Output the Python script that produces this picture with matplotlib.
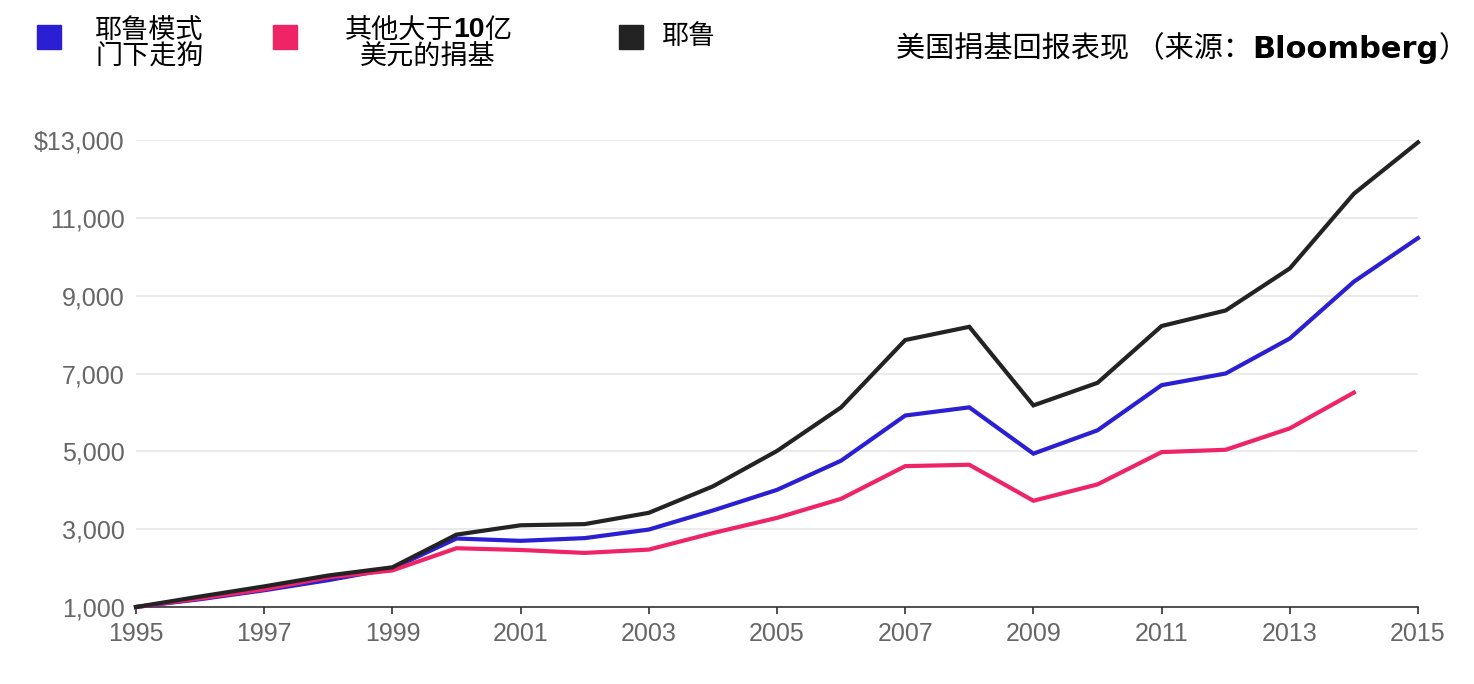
import matplotlib
matplotlib.use("Agg")
import matplotlib.pyplot as plt
import numpy as np

# ---------------- data ----------------
years = list(range(1995, 2016))
yale = [1000, 1270, 1530, 1810, 2020, 2860, 3100, 3130, 3420, 4100, 5010,
        6130, 7860, 8200, 6180, 6760, 8220, 8620, 9700, 11620, 12940]
yale_model = [1000, 1200, 1430, 1690, 1990, 2760, 2700, 2770, 2990, 3480, 4010,
              4760, 5920, 6130, 4940, 5540, 6700, 7000, 7900, 9360, 10480]
other_years = list(range(1995, 2015))
other_large = [1000, 1220, 1455, 1760, 1940, 2510, 2465, 2390, 2475, 2900, 3290,
               3780, 4620, 4655, 3730, 4150, 4980, 5040, 5590, 6510]

xtick_years = list(range(1995, 2016, 2))
ytick_vals = [1000, 3000, 5000, 7000, 9000, 11000, 13000]
ytick_labels = ["1,000", "3,000", "5,000", "7,000", "9,000", "11,000", "$13,000"]

legend_labels = ["耶鲁模式\n门下走狗", "其他大于10亿\n美元的捐基", "耶鲁"]
title_text = "美国捐基回报表现 （来源：Bloomberg）"

BLUE = "#2a1fd2"
PINK = "#ee2467"
BLACK = "#232323"

W, H = 1474, 684
fig = plt.figure(figsize=(W / 100, H / 100), dpi=100)
ax = fig.add_axes([136 / W, 1 - 607 / H, (1418 - 136) / W, (607 - 140) / H])

lw = 3.0
ax.plot(years, yale_model, color=BLUE, lw=lw, clip_on=False, zorder=3, solid_joinstyle="miter")
ax.plot(other_years, other_large, color=PINK, lw=lw, clip_on=False, zorder=4, solid_joinstyle="miter")
ax.plot(years, yale, color=BLACK, lw=lw, clip_on=False, zorder=5, solid_joinstyle="miter")

ax.set_xlim(1995, 2015)
ax.set_ylim(1000, 13000)
ax.set_xticks(xtick_years)
ax.set_xticklabels([str(y) for y in xtick_years], fontfamily="Liberation Sans",
                   fontsize=18, color="#666666")
ax.set_yticks(ytick_vals)
ax.set_yticklabels(ytick_labels, fontfamily="Liberation Sans", fontsize=18, color="#666666")
ax.tick_params(axis="y", length=0, pad=8)
ax.tick_params(axis="x", length=5, width=1.2, color="#333333", pad=6, direction="out")
for s in ["top", "right", "left"]:
    ax.spines[s].set_visible(False)
ax.spines["bottom"].set_color("#333333")
ax.spines["bottom"].set_linewidth(1.2)
ax.spines["bottom"].set_zorder(2)
ax.grid(axis="y", color="#e6e6e6", lw=1.2, zorder=0)
ax.grid(axis="x", visible=False)
ax.set_axisbelow(True)

# ---------------- header text ----------------
fig.canvas.draw()
renderer = fig.canvas.get_renderer()
CJK = ["Noto Sans CJK SC", "DejaVu Sans"]


def px(x, y):
    return x / W, 1 - y / H


def chain(pieces, x0, y, va="center"):
    x = x0
    for txt, kw in pieces:
        t = fig.text(*px(x, y), txt, ha="left", va=va, **kw)
        x += t.get_window_extent(renderer=renderer).width
    return x


def measure(pieces):
    total = 0
    for txt, kw in pieces:
        t = fig.text(0, 0, txt, **kw)
        total += t.get_window_extent(renderer=renderer).width
        t.remove()
    return total


# legend squares
sq = 24
for (cx, color) in [(49, BLUE), (285, PINK), (631, BLACK)]:
    fig.patches.append(plt.Rectangle(px(cx - sq / 2, 37 + sq / 2), sq / W, sq / H,
                                     transform=fig.transFigure, color=color))

lfs = 19.5
reg = dict(fontfamily=CJK, fontsize=lfs, color="#000000")
bold = dict(fontfamily=["Liberation Sans"], fontsize=lfs + 1, fontweight="bold", color="#000000")

l1, l2 = legend_labels[0].split("\n")
chain([(l1, reg)], 95, 30)
chain([(l2, reg)], 95, 57.5)

p1, p2 = legend_labels[1].split("\n")
pieces_line1 = [(p1[:4], reg), (p1[4:6], bold), (p1[6:], reg)]
w1 = measure(pieces_line1)
cxc = 428
chain(pieces_line1, cxc - w1 / 2, 30)
w2 = measure([(p2, reg)])
chain([(p2, reg)], cxc - w2 / 2, 57.5)

chain([(legend_labels[2], reg)], 662, 37)

# title
tfs = 21
treg = dict(fontfamily=CJK, fontsize=tfs, color="#000000")
tbold = dict(fontfamily=["DejaVu Sans"], fontsize=22, fontweight="bold", color="#000000")
a = title_text.index("Bloomberg")
title_pieces = [(title_text[:a], treg), ("Bloomberg", tbold), (title_text[a + 9:], treg)]
chain(title_pieces, 896, 49)

fig.savefig("out.png", dpi=100, facecolor="white")
